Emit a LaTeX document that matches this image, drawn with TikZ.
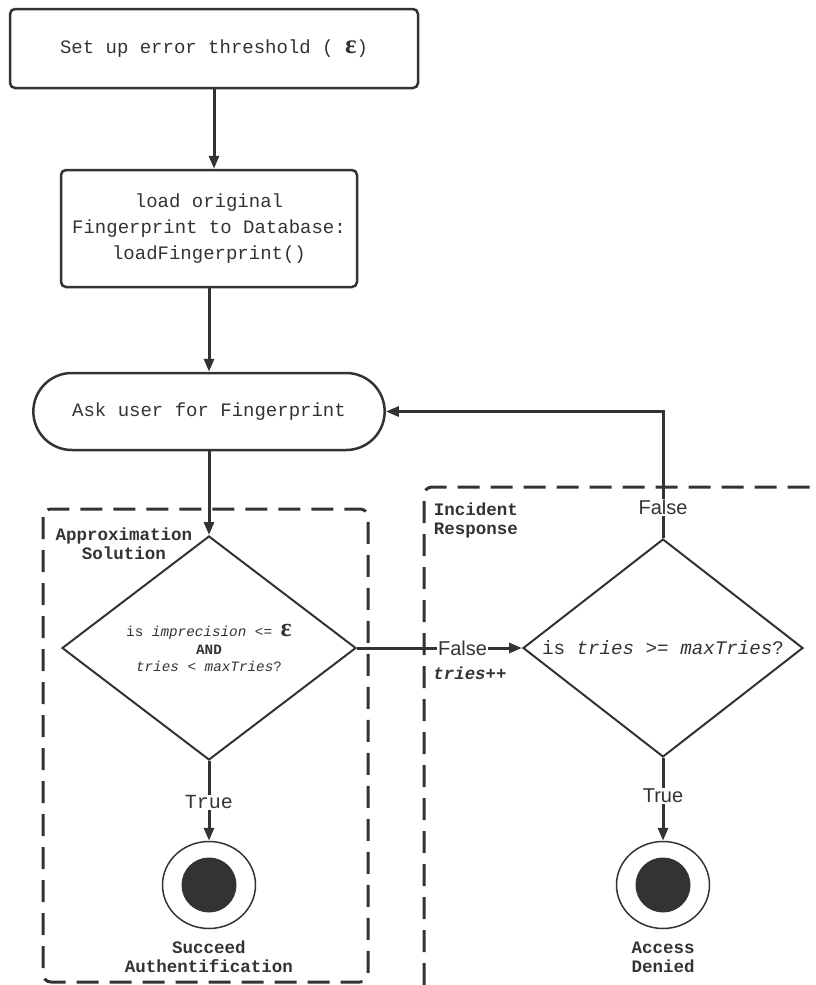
\documentclass[tikz,border=0pt]{standalone}
\usepackage{fontspec}
\setmonofont{Liberation Mono}
\setsansfont{Liberation Sans}
\newfontfamily\epsfont{Liberation Serif}
\usetikzlibrary{shapes.geometric,shapes.misc,arrows.meta}
\definecolor{ink}{HTML}{333333}

\begin{document}
\begin{tikzpicture}[x=1pt,y=-1pt,
    every node/.style={text=ink},
    procbox/.style={draw=ink,line width=2.5pt,rounded corners=5pt,align=center,
      font=\ttfamily\fontsize{19}{26}\selectfont},
    termbox/.style={draw=ink,line width=2.5pt,rounded rectangle,
      font=\ttfamily\fontsize{19}{26}\selectfont},
    decision/.style={draw=ink,line width=2pt,diamond,aspect=1.3,inner sep=0pt,align=center},
    flow/.style={draw=ink,line width=3pt,-{Triangle[length=13pt,width=10pt]}},
    lane/.style={draw=ink,line width=3pt,dash pattern=on 22pt off 11pt,rounded corners=8pt},
    lanelabel/.style={align=center,font=\ttfamily\bfseries\fontsize{17.5}{19}\selectfont},
    endouter/.style={draw=ink,line width=1.5pt,ellipse,minimum width=93pt,minimum height=87pt},
    endinner/.style={fill=ink,circle,minimum size=55pt,inner sep=0pt},
    guardsans/.style={fill=white,inner sep=1pt,font=\sffamily\fontsize{20}{20}\selectfont},
    guardmono/.style={fill=white,inner sep=1pt,font=\ttfamily\fontsize{20}{20}\selectfont}
  ]
  \useasboundingbox (0,0) rectangle (816,985);

  \draw[lane] (43,509) rectangle (368,982);
  \draw[lane] (424,985) -- (424,487) -- (816,487);
  \node[lanelabel] (approx) at (124,544) {Approximation\\Solution};
  \node[lanelabel,align=left] (incident) at (476,520) {Incident\\Response};

  \node[procbox,minimum width=408pt,minimum height=79pt] (setup) at (214,48.5)
    {Set up error threshold ( {\epsfont\bfseries\fontsize{27}{26}\selectfont ε})};
  \node[procbox,minimum width=296pt,minimum height=117pt] (load) at (209,228.5)
    {load original\\Fingerprint to Database:\\loadFingerprint()};
  \node[termbox,minimum width=358pt,minimum height=77pt] (ask) at (209,411.5)
    {Ask user for Fingerprint};

  \node[decision,minimum width=294pt,minimum height=224pt,
    font=\ttfamily\fontsize{14.3}{17.5}\selectfont] (check) at (209,648)
    {is \textit{imprecision} <= {\epsfont\bfseries\fontsize{26}{17.5}\selectfont ε}\\
     \textbf{AND}\\
     \textit{tries} < \textit{maxTries}?};
  \node[decision,minimum width=280pt,minimum height=218pt,
    font=\ttfamily\fontsize{19.2}{22}\selectfont] (limit) at (663,648)
    {is \textit{tries} >= \textit{maxTries}?};
  \node[font=\ttfamily\bfseries\itshape\fontsize{17.4}{19}\selectfont] (incr) at (470,673) {tries++};

  \node[endouter] (okend) at (209,885) {};
  \node[endinner] (okdot) at (okend.center) {};
  \node[lanelabel] (oklabel) at (209,957) {Succeed\\Authentification};
  \node[endouter] (deniedend) at (663,885) {};
  \node[endinner] (denieddot) at (deniedend.center) {};
  \node[lanelabel] (deniedlabel) at (663,957) {Access\\Denied};

  \draw[flow] (setup.south) -- (setup.south |- load.north);
  \draw[flow] (load.south) -- (ask.north);
  \draw[flow] (ask.south) -- (check.north);
  \draw[flow] (check.south) -- node[guardmono,pos=0.52]{True} (okend.north);
  \draw[flow] (check.east) -- node[guardsans,pos=0.64]{False} (limit.west);
  \draw[flow] (limit.north) -- node[guardsans,pos=0.24]{False} (limit.north |- ask.east) -- (ask.east);
  \draw[flow] (limit.south) -- node[guardsans,pos=0.46]{True} (deniedend.north);
\end{tikzpicture}
\end{document}
